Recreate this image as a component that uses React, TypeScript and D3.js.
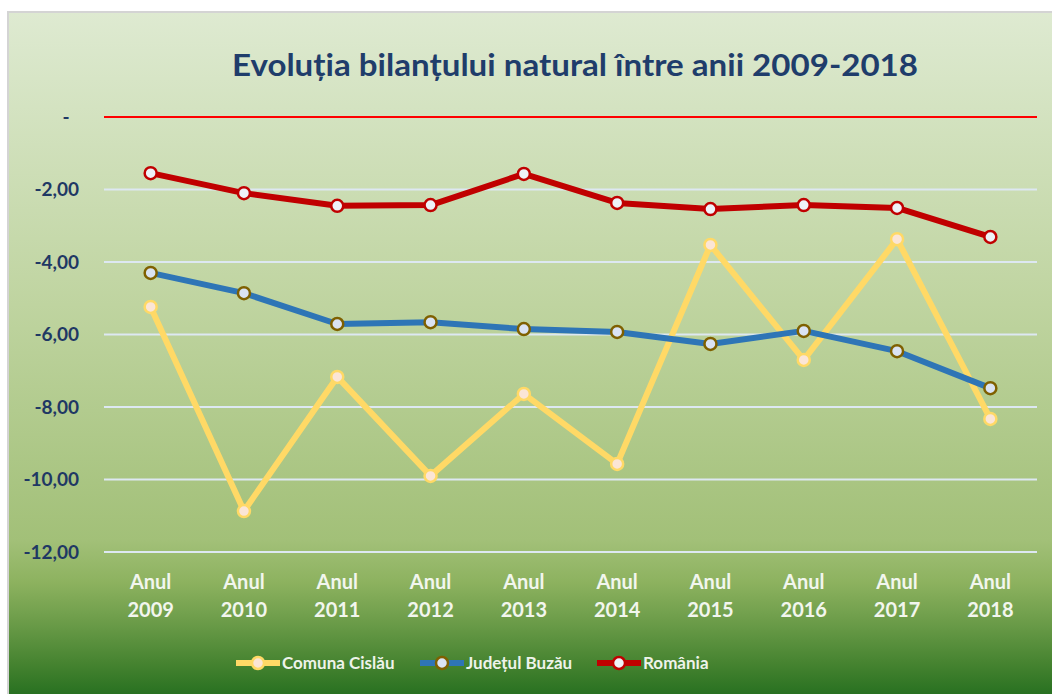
import React from "react";
import * as d3 from "d3";

const years = ["2009", "2010", "2011", "2012", "2013", "2014", "2015", "2016", "2017", "2018"];
const cislau = [-5.24, -10.87, -7.17, -9.9, -7.64, -9.57, -3.53, -6.7, -3.37, -8.33];
const buzau = [-4.3, -4.86, -5.71, -5.66, -5.85, -5.93, -6.26, -5.9, -6.46, -7.48];
const romania = [-1.55, -2.1, -2.45, -2.43, -1.57, -2.37, -2.54, -2.43, -2.51, -3.31];
const yTicks = [0, -2, -4, -6, -8, -10, -12];
const title = "Evoluția bilanțului natural între anii 2009-2018";

const series = [
  { name: "Comuna Cislău", values: cislau, line: "#ffd966", fill: "#fbe5d6", stroke: "#ffd966" },
  { name: "Județul Buzău", values: buzau, line: "#2e75b6", fill: "#dae3f3", stroke: "#7f6000" },
  { name: "România", values: romania, line: "#c00000", fill: "#eef2f8", stroke: "#c00000" },
];

const W = 1052;
const H = 694;
const font = "Lato, 'Open Sans', sans-serif";

export default function App() {
  const x = d3.scaleBand<string>().domain(years).range([104, 1037]);
  const y = d3.scaleLinear().domain([-12, 0]).range([552, 117]);
  const line = d3
    .line<number>()
    .x((_, i) => (x(years[i]) as number) + x.bandwidth() / 2)
    .y((d) => y(d));
  const fmt = (v: number) => (v === 0 ? "-" : d3.format(".2f")(v).replace(".", ",").replace("−", "-"));

  const legendItems = [
    { x0: 236, tx: 282 },
    { x0: 420, tx: 466 },
    { x0: 597, tx: 643 },
  ];

  return (
    <svg width={W} height={H} style={{ position: "absolute", left: 0, top: 0 }}>
      <defs>
        <linearGradient id="bg" x1="0" y1="0" x2="0" y2="1">
          <stop offset="0" stopColor="#deead1" />
          <stop offset="0.42" stopColor="#bfd4a0" />
          <stop offset="0.76" stopColor="#a2c078" />
          <stop offset="0.82" stopColor="#8db25f" />
          <stop offset="0.88" stopColor="#6a9b48" />
          <stop offset="0.94" stopColor="#44822f" />
          <stop offset="1" stopColor="#1c691b" />
        </linearGradient>
      </defs>
      <rect x={0} y={0} width={W} height={H} fill="#ffffff" />
      <rect x={7} y={11} width={W} height={H} fill="#d4d4d4" />
      <rect x={9} y={13} width={W} height={H} fill="url(#bg)" />
      <text
        x={232}
        y={76}
        textLength={686}
        lengthAdjust="spacingAndGlyphs"
        fontFamily={font}
        fontWeight="bold"
        fontSize={31}
        fill="#1f3d6b"
      >
        {title}
      </text>
      {yTicks.map((t) => (
        <g key={t}>
          {t !== 0 && (
            <line x1={104} x2={1037} y1={y(t)} y2={y(t)} stroke="#dde8f2" strokeWidth={2} />
          )}
          <text
            x={t === 0 ? 66 : 79}
            y={y(t)}
            dy="0.35em"
            textAnchor={t === 0 ? "middle" : "end"}
            fontFamily={font}
            fontWeight="bold"
            fontSize={19}
            fill="#1f3864"
          >
            {fmt(t)}
          </text>
        </g>
      ))}
      <line x1={104} x2={1037} y1={y(0)} y2={y(0)} stroke="#ff0000" strokeWidth={2} />
      {years.map((yr) => {
        const cx = (x(yr) as number) + x.bandwidth() / 2;
        return (
          <text
            key={yr}
            x={cx}
            textAnchor="middle"
            fontFamily={font}
            fontWeight="bold"
            fontSize={20}
            fill="#f2f6ee"
          >
            <tspan x={cx} y={589}>Anul</tspan>
            <tspan x={cx} y={617}>{yr}</tspan>
          </text>
        );
      })}
      {series.map((s) => (
        <g key={s.name}>
          <path d={line(s.values) || ""} fill="none" stroke={s.line} strokeWidth={6} strokeLinejoin="round" />
          {s.values.map((v, i) => (
            <circle
              key={i}
              cx={(x(years[i]) as number) + x.bandwidth() / 2}
              cy={y(v)}
              r={6}
              fill={s.fill}
              stroke={s.stroke}
              strokeWidth={2.5}
            />
          ))}
        </g>
      ))}
      {series.map((s, i) => {
        const L = legendItems[i];
        return (
          <g key={s.name}>
            <line x1={L.x0} x2={L.x0 + 44} y1={663} y2={663} stroke={s.line} strokeWidth={6} />
            <circle cx={L.x0 + 22} cy={663} r={6} fill={s.fill} stroke={s.stroke} strokeWidth={2.5} />
            <text x={L.tx} y={663} dy="0.35em" fontFamily={font} fontWeight="bold" fontSize={17} fill="#eef3ea">
              {s.name}
            </text>
          </g>
        );
      })}
    </svg>
  );
}
